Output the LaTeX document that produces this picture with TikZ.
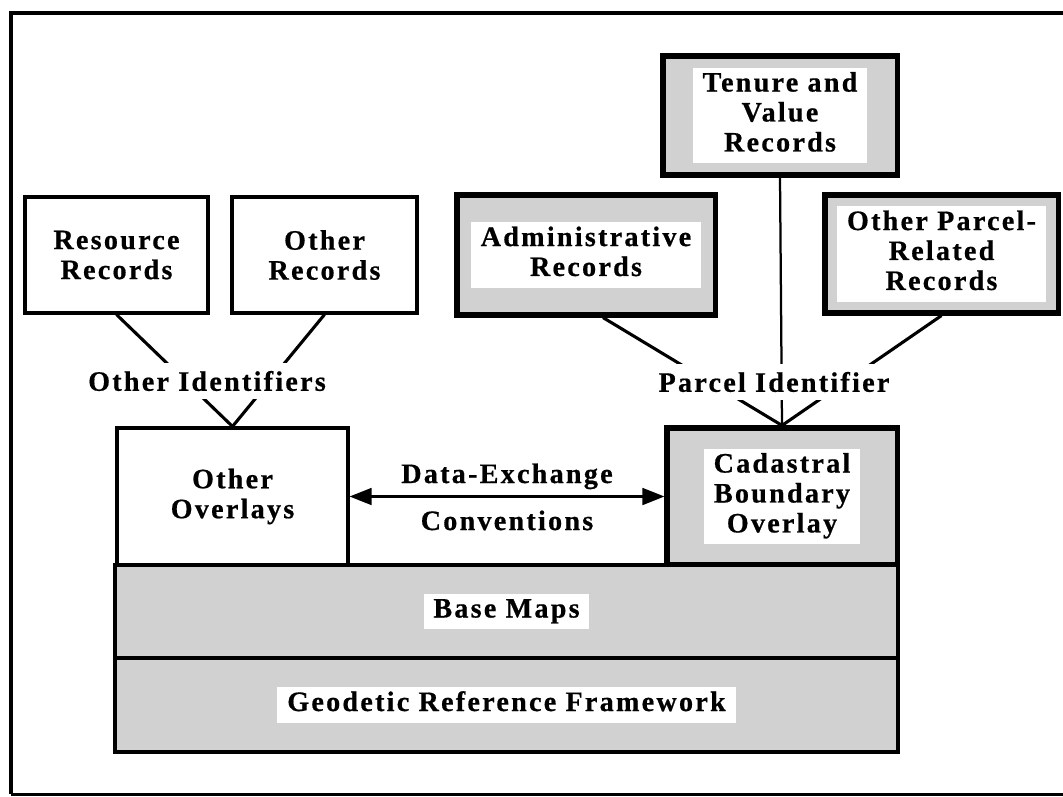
\documentclass[tikz,border=0pt]{standalone}
\usepackage{fontspec}
\setmainfont{Liberation Serif}[LetterSpace=8, BoldFeatures={FakeBold=0.6}]
\usetikzlibrary{arrows.meta,calc}

% text of a shaded box sits on a white patch
\newcommand\onwhite[1]{{\setlength\fboxsep{2pt}\colorbox{white}{\begin{tabular}{@{\hspace{5pt}}c@{\hspace{5pt}}}#1\end{tabular}}}}

\tikzset{
  every node/.style={font=\fontsize{20}{21.3}\selectfont\bfseries},
  plainrec/.style={draw, line width=2.2pt, align=center, inner sep=0pt},
  parcelrec/.style={draw, line width=3.6pt, fill=black!18, inner sep=0pt},
  layer/.style={draw, line width=2.8pt, fill=black!18, inner sep=0pt, minimum width=19.575cm},
  link/.style={line width=2.2pt},
  idlabel/.style={fill=white, inner xsep=2pt, inner ysep=5.5pt},
}

\begin{document}
\begin{tikzpicture}[x=0.025cm, y=-0.025cm]
  \useasboundingbox (0,0) rectangle (1063,796);
  \draw[line width=3pt] (1063,13) -- (11,13) -- (11,794);
  \draw[line width=1.6pt] (11,794.5) -- (1063,794.5);

  % records kept under other identifiers
  \node[plainrec, minimum width=4.575cm, minimum height=2.9cm] (res) at (116.5,255) {Resource\\Records};
  \node[plainrec, minimum width=4.625cm, minimum height=2.9cm] (othrec) at (324.5,255) {Other\\Records};
  \node[plainrec, minimum width=5.775cm, minimum height=3.425cm] (ovl) at (232.5,496.5) {Other\\Overlays};

  % parcel records
  \node[parcelrec, minimum width=5.85cm, minimum height=2.975cm] (ten) at (780,115.5) {\onwhite{Tenure and\\Value\\Records}};
  \node[parcelrec, minimum width=6.45cm, minimum height=3cm] (adm) at (586,255) {\onwhite{Administrative\\Records}};
  \node[parcelrec, minimum width=5.825cm, minimum height=2.95cm] (opr) at (941.5,254) {\onwhite{Other Parcel-\\Related\\Records}};
  \node[parcelrec, minimum width=5.75cm, minimum height=3.425cm] (cad) at (782,496.5) {\onwhite{Cadastral\\Boundary\\Overlay}};

  % the two bottom layers
  \node[layer, minimum height=2.325cm] (base) at (506.5,611.5) {\onwhite{Base Maps}};
  \node[layer, minimum height=2.35cm] (geo) at (506.5,705) {\onwhite{Geodetic Reference Framework}};

  \draw[link] (res.south) -- (ovl.north);
  \draw[link] (othrec.south) -- (ovl.north);
  \draw[link] ($(adm.south)+(17,0)$) -- (cad.north);
  \draw[line width=1.6pt] (ten.south) -- (cad.north);
  \draw[link] (opr.south) -- (cad.north);

  \node[idlabel] (otherid) at (207,381) {Other Identifiers};
  \node[idlabel] (parcelid) at (774,382) {Parcel Identifier};

  \draw[line width=1.6pt, {Triangle[length=0.55cm,width=0.42cm]}-{Triangle[length=0.55cm,width=0.42cm]}] (ovl.east) -- (cad.west);
  \node[anchor=base] (dex) at (507,483) {Data-Exchange};
  \node[anchor=base] (conv) at (507,530) {Conventions};
\end{tikzpicture}
\end{document}
